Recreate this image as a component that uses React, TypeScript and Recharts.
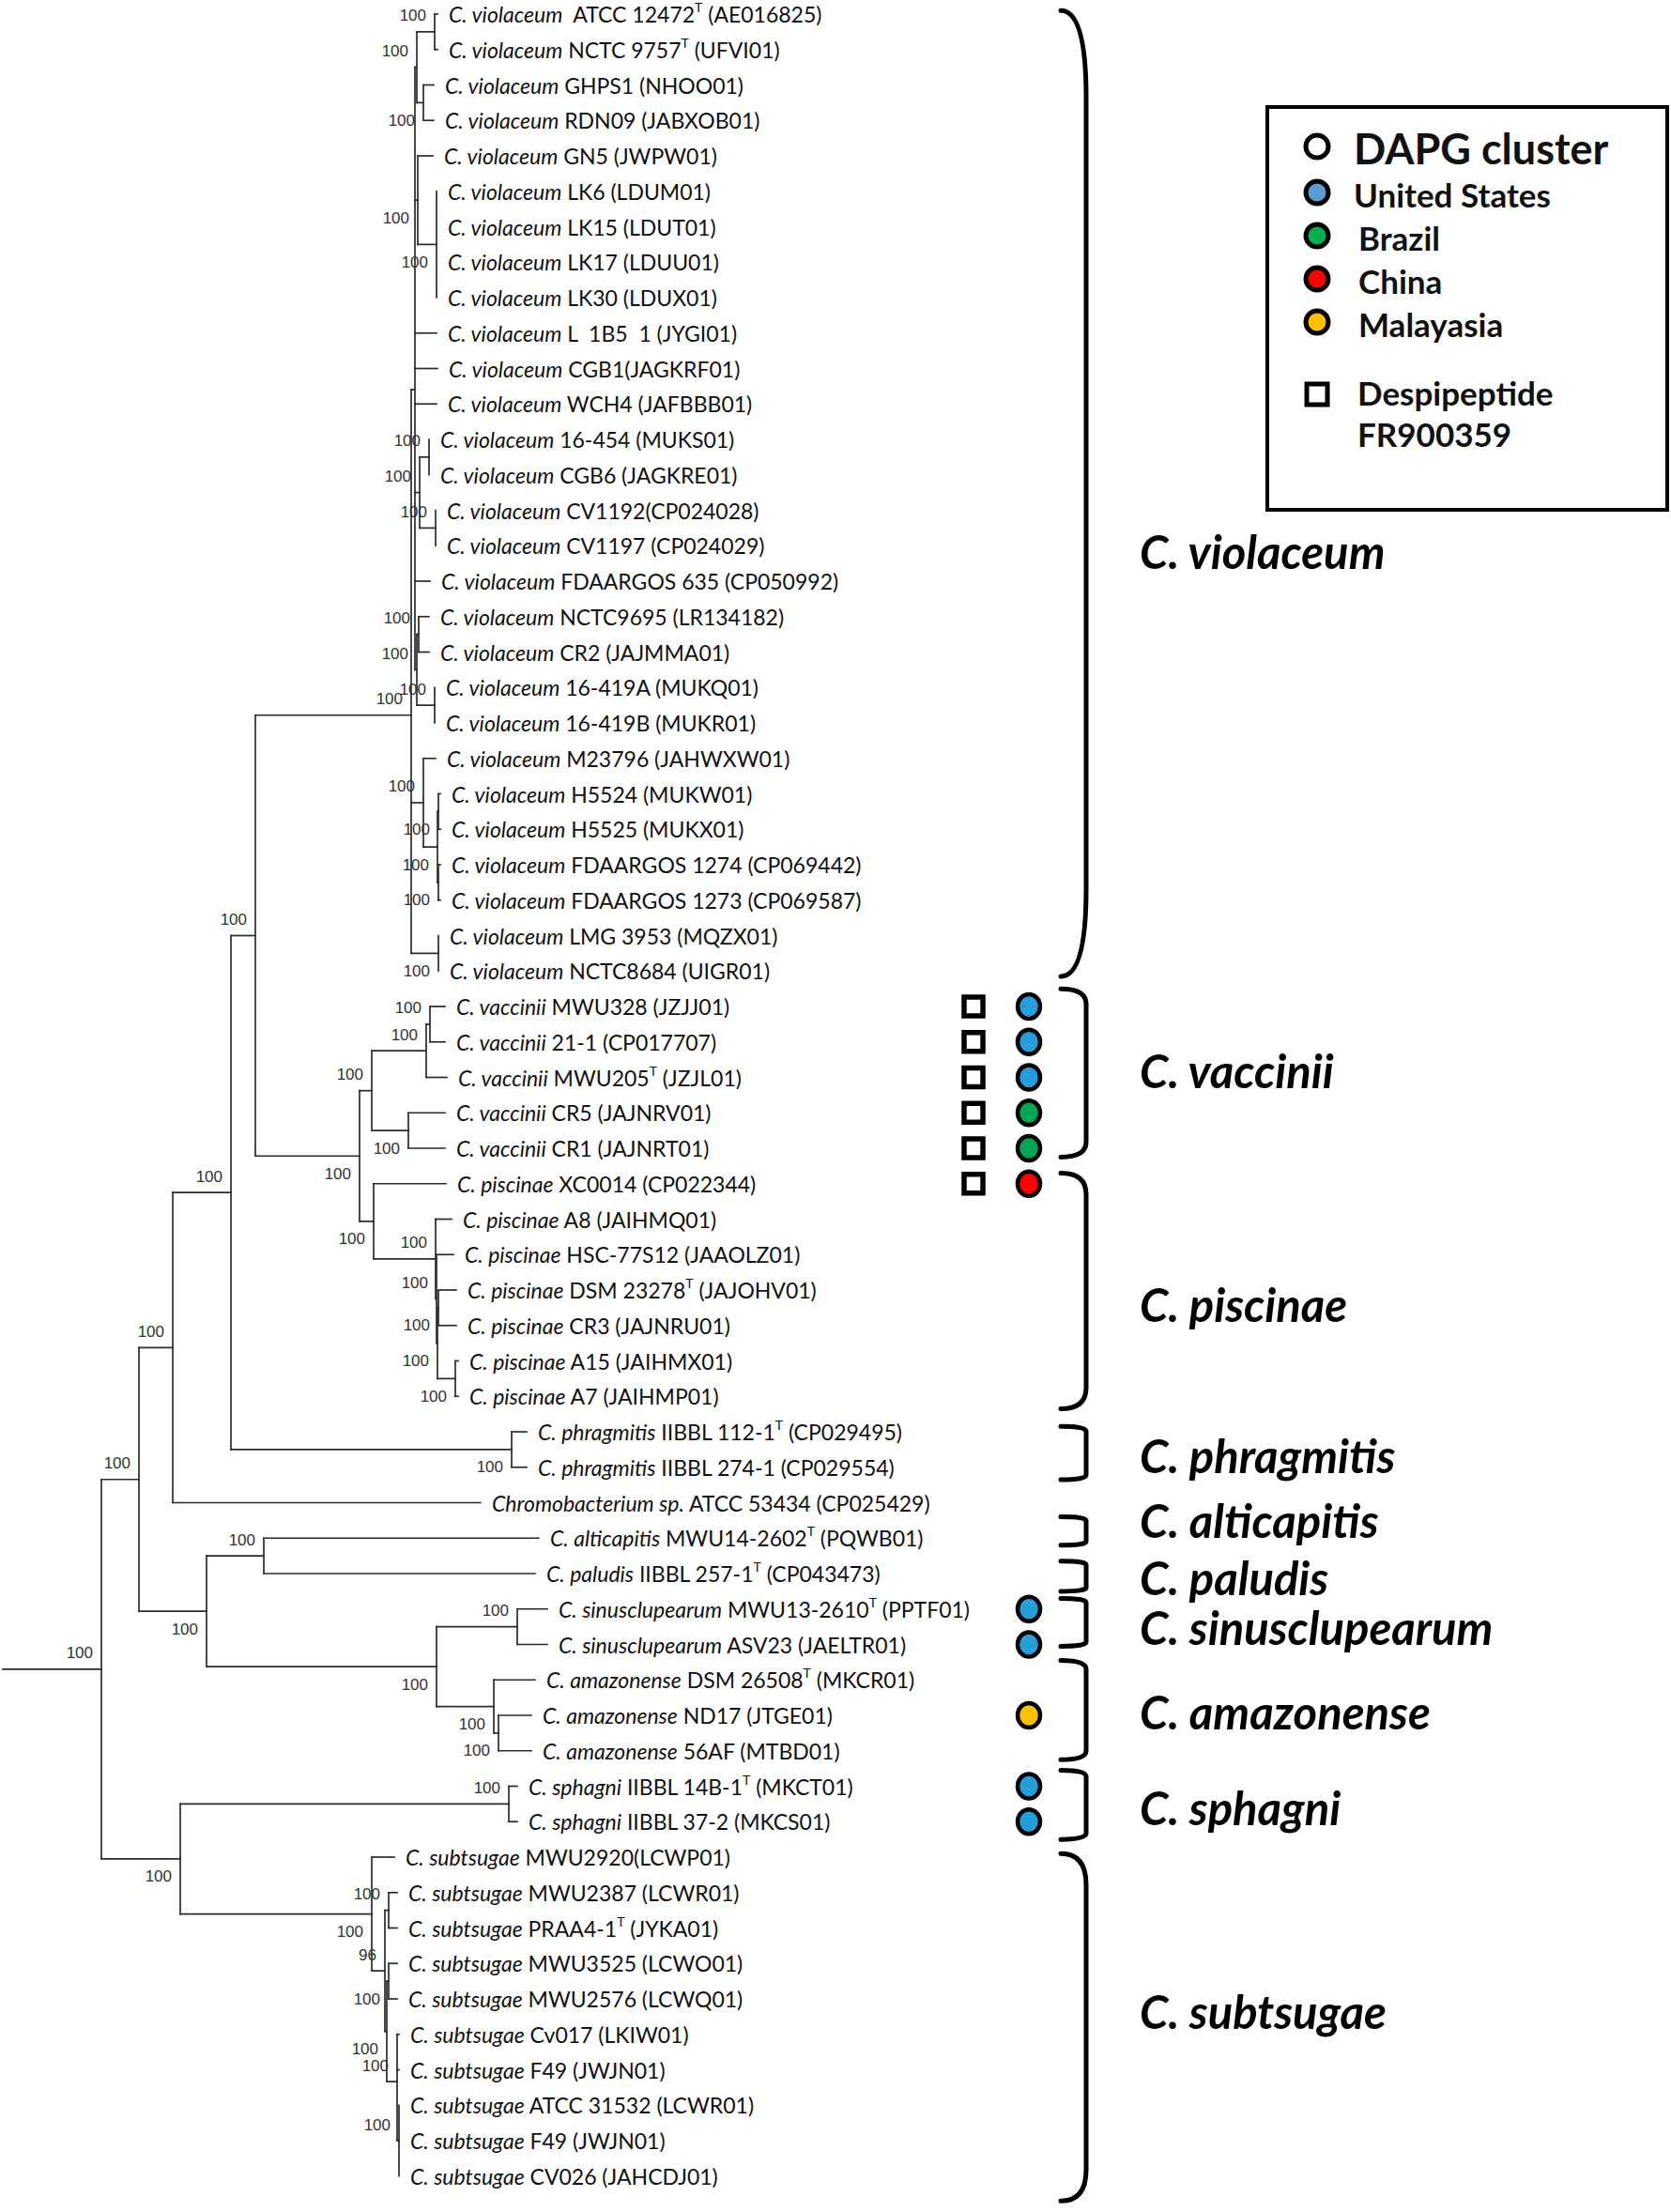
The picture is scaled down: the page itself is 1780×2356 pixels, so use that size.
import React from "react";
import { ScatterChart, Scatter, XAxis, YAxis, ReferenceLine, ReferenceArea, Legend } from "recharts";

const W = 1780;
const H = 2356;
// leaf rows run 1..62 from the top; the y axis is in rows, the x axis in tree units
const ROW_TOP = 0.6026;
const ROW_BOTTOM = 63.013;

// [species, strain, type strain, accession, branch tip]
const leaves: [string, string, boolean, string, number][] = [
  ["C. violaceum", "  ATCC 12472", true, " (AE016825)", 466],
  ["C. violaceum", " NCTC 9757", true, " (UFVI01)", 466],
  ["C. violaceum", " GHPS1", false, " (NHOO01)", 462],
  ["C. violaceum", " RDN09", false, " (JABXOB01)", 462],
  ["C. violaceum", " GN5", false, " (JWPW01)", 461],
  ["C. violaceum", " LK6", false, " (LDUM01)", 465],
  ["C. violaceum", " LK15", false, " (LDUT01)", 465],
  ["C. violaceum", " LK17", false, " (LDUU01)", 465],
  ["C. violaceum", " LK30", false, " (LDUX01)", 465],
  ["C. violaceum", " L  1B5  1", false, " (JYGI01)", 465],
  ["C. violaceum", " CGB1", false, "(JAGKRF01)", 466],
  ["C. violaceum", " WCH4", false, " (JAFBBB01)", 465],
  ["C. violaceum", " 16-454", false, " (MUKS01)", 457],
  ["C. violaceum", " CGB6", false, " (JAGKRE01)", 457],
  ["C. violaceum", " CV1192", false, "(CP024028)", 464],
  ["C. violaceum", " CV1197", false, " (CP024029)", 464],
  ["C. violaceum", " FDAARGOS 635", false, " (CP050992)", 458],
  ["C. violaceum", " NCTC9695", false, " (LR134182)", 457],
  ["C. violaceum", " CR2", false, " (JAJMMA01)", 457],
  ["C. violaceum", " 16-419A", false, " (MUKQ01)", 463],
  ["C. violaceum", " 16-419B", false, " (MUKR01)", 463],
  ["C. violaceum", " M23796", false, " (JAHWXW01)", 464],
  ["C. violaceum", " H5524", false, " (MUKW01)", 469],
  ["C. violaceum", " H5525", false, " (MUKX01)", 469],
  ["C. violaceum", " FDAARGOS 1274", false, " (CP069442)", 469],
  ["C. violaceum", " FDAARGOS 1273", false, " (CP069587)", 469],
  ["C. violaceum", " LMG 3953", false, " (MQZX01)", 467],
  ["C. violaceum", " NCTC8684", false, " (UIGR01)", 467],
  ["C. vaccinii", " MWU328", false, " (JZJJ01)", 474],
  ["C. vaccinii", " 21-1", false, " (CP017707)", 474],
  ["C. vaccinii", " MWU205", true, " (JZJL01)", 476],
  ["C. vaccinii", " CR5", false, " (JAJNRV01)", 474],
  ["C. vaccinii", " CR1", false, " (JAJNRT01)", 474],
  ["C. piscinae", " XC0014", false, " (CP022344)", 475],
  ["C. piscinae", " A8", false, " (JAIHMQ01)", 481],
  ["C. piscinae", " HSC-77S12", false, " (JAAOLZ01)", 483],
  ["C. piscinae", " DSM 23278", true, " (JAJOHV01)", 486],
  ["C. piscinae", " CR3", false, " (JAJNRU01)", 486],
  ["C. piscinae", " A15", false, " (JAIHMX01)", 488],
  ["C. piscinae", " A7", false, " (JAIHMP01)", 488],
  ["C. phragmitis", " IIBBL 112-1", true, " (CP029495)", 561],
  ["C. phragmitis", " IIBBL 274-1", false, " (CP029554)", 561],
  ["Chromobacterium sp.", " ATCC 53434", false, " (CP025429)", 512],
  ["C. alticapitis", " MWU14-2602", true, " (PQWB01)", 574],
  ["C. paludis", " IIBBL 257-1", true, " (CP043473)", 570],
  ["C. sinusclupearum", " MWU13-2610", true, " (PPTF01)", 583],
  ["C. sinusclupearum", " ASV23", false, " (JAELTR01)", 583],
  ["C. amazonense", " DSM 26508", true, " (MKCR01)", 570],
  ["C. amazonense", " ND17", false, " (JTGE01)", 566],
  ["C. amazonense", " 56AF", false, " (MTBD01)", 566],
  ["C. sphagni", " IIBBL 14B-1", true, " (MKCT01)", 551],
  ["C. sphagni", " IIBBL 37-2", false, " (MKCS01)", 551],
  ["C. subtsugae", " MWU2920", false, "(LCWP01)", 420],
  ["C. subtsugae", " MWU2387", false, " (LCWR01)", 423],
  ["C. subtsugae", " PRAA4-1", true, " (JYKA01)", 423],
  ["C. subtsugae", " MWU3525", false, " (LCWO01)", 423],
  ["C. subtsugae", " MWU2576", false, " (LCWQ01)", 423],
  ["C. subtsugae", " Cv017", false, " (LKIW01)", 425],
  ["C. subtsugae", " F49", false, " (JWJN01)", 425],
  ["C. subtsugae", " ATCC 31532", false, " (LCWR01)", 425],
  ["C. subtsugae", " F49", false, " (JWJN01)", 425],
  ["C. subtsugae", " CV026", false, " (JAHCDJ01)", 425],
];

// internal nodes: [id, node position, children (leaf rows or node ids), bootstrap, label side]
type Kid = string | number;
const nodes: [string, number, Kid[], number | null, "a" | "b" | ""][] = [
  ["A", 108, ["B", "H"], 100, "a"],
  ["B", 148, ["C", "F"], 100, "a"],
  ["C", 184, ["D", 43], 100, "a"],
  ["D", 246, ["E", "PH"], 100, "a"],
  ["E", 272, ["V", "VP"], 100, "a"],
  ["V", 438, ["Va", "M", "LM"], 100, "a"],
  ["Va", 442, ["V1", "Q", 10, 11, 12, "W", 17, "Y"], null, ""],
  ["V1", 444, ["AT", "GH"], 100, "a"],
  ["AT", 463, [1, 2], 100, "a"],
  ["GH", 451, [3, 4], 100, "b"],
  ["Q", 445, [5, "LK"], 100, "b"],
  ["LK", 465, [6, 7, 8, 9], 100, "b"],
  ["W", 447, ["S454", "CVg"], 100, "a"],
  ["S454", 457, [13, 14], 100, "a"],
  ["CVg", 464, [15, 16], 100, "a"],
  ["Y", 444, ["NC", "A419"], 100, "a"],
  ["NC", 446, [18, 19], 100, "a"],
  ["A419", 463, [20, 21], 100, "a"],
  ["M", 451, [22, "HG"], 100, "a"],
  ["HG", 466, ["H1", "H2"], 100, "b"],
  ["H1", 467, [23, 24], 100, "b"],
  ["H2", 467, [25, 26], 100, "b"],
  ["LM", 467, [27, 28], 100, "b"],
  ["VP", 383, ["VA", "PI"], 100, "b"],
  ["VA", 396, ["VAu", "CRn"], 100, "a"],
  ["VAu", 454, ["Vin", 31], 100, "a"],
  ["Vin", 458, [29, 30], 100, "a"],
  ["CRn", 435, [32, 33], 100, "b"],
  ["PI", 398, [34, "PI2"], 100, "b"],
  ["PI2", 464, [35, "PIb"], 100, "a"],
  ["PIb", 465, [36, "PI3"], 100, "a"],
  ["PI3", 466, ["PIc", "PI4"], 100, "b"],
  ["PIc", 467, [37, 38], 100, "b"],
  ["PI4", 485, [39, 40], 100, "b"],
  ["PH", 545, [41, 42], 100, "b"],
  ["F", 220, ["AP", "G"], 100, "b"],
  ["AP", 281, [44, 45], 100, "a"],
  ["G", 465, ["SN", "AM"], 100, "b"],
  ["SN", 551, [46, 47], 100, "a"],
  ["AM", 526, [48, "AMi"], 100, "b"],
  ["AMi", 531, [49, 50], 100, "b"],
  ["H", 192, ["SP", "S0"], 100, "b"],
  ["SP", 542, [51, 52], 100, "a"],
  ["S0", 396, [53, "S1"], 100, "b"],
  ["S1", 410, ["S2", "S1b"], 96, "a"],
  ["S2", 414, [54, 55], 100, "a"],
  ["S1b", 412, ["S3", "S4"], 100, "b"],
  ["S3", 414, [56, 57], 100, "b"],
  ["S4", 423, [58, 59, "S5"], 100, "a"],
  ["S5", 425, [60, 61, 62], 100, "a"],
];
const ROOT_STUB = 3;

// clade braces: [name, first row, last row, label row]
const clades: [string, number, number, number][] = [
  ["C. violaceum", 0.9, 28.15, 16.15],
  ["C. vaccinii", 28.5, 33.25, 30.8],
  ["C. piscinae", 33.7, 40.35, 37.4],
  ["C. phragmitis", 40.85, 42.35, 41.65],
  ["C. alticapitis", 43.4, 44.2, 43.5],
  ["C. paludis", 44.65, 45.5, 45.1],
  ["C. sinusclupearum", 45.7, 47.05, 46.5],
  ["C. amazonense", 47.45, 50.25, 48.9],
  ["C. sphagni", 50.55, 52.5, 51.6],
  ["C. subtsugae", 52.9, 62.7, 57.35],
];

// rows carrying the despipeptide FR900359 cluster
const despipeptideRows = [29, 30, 31, 32, 33, 34];
// rows carrying the DAPG cluster, with the isolation country
const dapgRows: [number, string][] = [
  [29, "United States"], [30, "United States"], [31, "United States"],
  [32, "Brazil"], [33, "Brazil"], [34, "China"],
  [46, "United States"], [47, "United States"], [49, "Malayasia"],
  [51, "United States"], [52, "United States"],
];
const countries = ["United States", "Brazil", "China", "Malayasia"];
const countryColor: Record<string, string> = {
  "United States": "#239fdb", Brazil: "#00a651", China: "#ff0000", Malayasia: "#ffc000",
};
const legendColor: Record<string, string> = {
  "United States": "#5b9bd5", Brazil: "#00b050", China: "#ff0000", Malayasia: "#ffc000",
};

const SQUARE_X = 1037;
const CIRCLE_X = 1096;
const BRACE_X1 = 1130;
const BRACE_X2 = 1157;
const CLADE_X = 1214;
const LINE = "#2b2b2b";
const LEAF_FONT = "Lato, 'Liberation Sans', sans-serif";

const nodeMap = new Map(nodes.map((n) => [n[0], n]));
const yOf = (k: Kid): number => {
  if (typeof k === "number") return k;
  const kids = nodeMap.get(k)![2];
  return kids.reduce((s: number, c) => s + yOf(c), 0) / kids.length;
};
const xOf = (k: Kid): number => (typeof k === "number" ? leaves[k - 1][4] : nodeMap.get(k)![1]);

const segments: { x1: number; y1: number; x2: number; y2: number }[] = [];
segments.push({ x1: ROOT_STUB, y1: yOf("A"), x2: xOf("A"), y2: yOf("A") });
nodes.forEach(([, x, kids]) => {
  const ys = kids.map(yOf);
  segments.push({ x1: x, y1: Math.min(...ys), x2: x, y2: Math.max(...ys) });
  kids.forEach((k) => {
    if (xOf(k) > x) segments.push({ x1: x, y1: yOf(k), x2: xOf(k), y2: yOf(k) });
  });
});

const leafData = leaves.map(([sp, strain, t, acc, tip], i) => ({ x: tip, y: i + 1, sp, strain, t, acc }));
const bootData = nodes
  .filter((n) => n[3] !== null)
  .map(([id, x, , bs, side]) => ({ x, y: yOf(id), bs, side }));
const squareData = despipeptideRows.map((r) => ({ x: SQUARE_X, y: r }));
const circleData = dapgRows.map(([r, c]) => ({ x: CIRCLE_X, y: r, c }));
const cladeData = clades.map(([name, , , lr]) => ({ x: CLADE_X, y: lr, name }));

const LeafLabel = (p: any) => {
  const d = p.payload;
  return (
    <text x={p.cx + 12} y={p.cy} dominantBaseline="central" fontFamily={LEAF_FONT} fontSize={23}
      fill="#111" style={{ whiteSpace: "pre" }}>
      <tspan fontStyle="italic">{d.sp}</tspan>
      <tspan>{d.strain}</tspan>
      {d.t ? <tspan dy={-8} fontSize={14}>T</tspan> : null}
      <tspan dy={d.t ? 8 : 0}>{d.acc}</tspan>
    </text>
  );
};

const BootLabel = (p: any) => (
  <text x={p.cx - 9} y={p.cy + (p.payload.side === "a" ? -17 : 19)} textAnchor="end"
    dominantBaseline="central" fontFamily="'Liberation Sans', Arial, sans-serif" fontSize={17} fill="#333">
    {p.payload.bs}
  </text>
);

const Brace = (p: any) => {
  const { x, y, width, height } = p;
  const x2 = x + width;
  const ry = Math.max(4, height * 0.09);
  const d = `M${x},${y} Q${x2},${y} ${x2},${y + ry} L${x2},${y + height - ry} Q${x2},${y + height} ${x},${y + height}`;
  return <path d={d} fill="none" stroke="#000" strokeWidth={5} strokeLinecap="round" />;
};

const LegendBox = () => (
  <svg width={430} height={433} style={{ display: "block" }}>
    <rect x={2} y={2} width={426} height={429} fill="#fff" stroke="#000" strokeWidth={4} />
    <circle cx={55} cy={44} r={12} fill="#fff" stroke="#000" strokeWidth={5} />
    <text x={94} y={46} dominantBaseline="central" fontFamily="Lato, sans-serif" fontWeight="bold" fontSize={45} fill="#111">
      DAPG cluster
    </text>
    {countries.map((c, i) => (
      <g key={c}>
        <circle cx={55} cy={93 + i * 46} r={12} fill={legendColor[c]} stroke="#000" strokeWidth={5} />
        <text x={i === 0 ? 94 : 99} y={95 + i * 46} dominantBaseline="central" fontFamily="Lato, sans-serif"
          fontWeight="bold" fontSize={35} fill="#111">{c}</text>
      </g>
    ))}
    <rect x={44} y={297} width={22} height={22} fill="#fff" stroke="#000" strokeWidth={5} />
    <text x={98} y={306} dominantBaseline="central" fontFamily="Lato, sans-serif" fontWeight="bold" fontSize={35} fill="#111">
      Despipeptide
    </text>
    <text x={98} y={350} dominantBaseline="central" fontFamily="Lato, sans-serif" fontWeight="bold" fontSize={35} fill="#111">
      FR900359
    </text>
  </svg>
);

export default function App() {
  return (
    <div style={{ position: "absolute", left: 0, top: 0, width: W, height: H, background: "#fff" }}>
      <ScatterChart width={W} height={H} margin={{ top: 0, right: 0, bottom: 0, left: 0 }}>
        <XAxis type="number" dataKey="x" domain={[0, W]} allowDataOverflow hide />
        <YAxis type="number" dataKey="y" domain={[ROW_TOP, ROW_BOTTOM]} allowDataOverflow reversed hide />
        {segments.map((s, i) => (
          <ReferenceLine key={i} segment={[{ x: s.x1, y: s.y1 }, { x: s.x2, y: s.y2 }]}
            stroke={LINE} strokeWidth={1.7} strokeLinecap="square" ifOverflow="visible" />
        ))}
        {clades.map(([name, r0, r1]) => (
          <ReferenceArea key={name} x1={BRACE_X1} x2={BRACE_X2} y1={r0} y2={r1} ifOverflow="visible" shape={Brace} />
        ))}
        <Scatter data={leafData} isAnimationActive={false} shape={LeafLabel} />
        <Scatter data={bootData} isAnimationActive={false} shape={BootLabel} />
        <Scatter data={squareData} isAnimationActive={false}
          shape={(p: any) => <rect x={p.cx - 10} y={p.cy - 10} width={20} height={20} fill="#fff" stroke="#000" strokeWidth={5.5} />} />
        <Scatter data={circleData} isAnimationActive={false}
          shape={(p: any) => <ellipse cx={p.cx} cy={p.cy} rx={12} ry={13} fill={countryColor[p.payload.c]} stroke="#000" strokeWidth={4.5} />} />
        <Scatter data={cladeData} isAnimationActive={false}
          shape={(p: any) => (
            <text x={p.cx} y={p.cy} dominantBaseline="central" fontFamily="Lato, sans-serif" fontWeight="bold"
              fontStyle="italic" fontSize={49} fill="#000">{p.payload.name}</text>
          )} />
        <Legend layout="horizontal" verticalAlign="middle" align="center" content={LegendBox}
          wrapperStyle={{ position: "absolute", left: 1348, top: 112, width: 430, height: 433 }} />
      </ScatterChart>
    </div>
  );
}
